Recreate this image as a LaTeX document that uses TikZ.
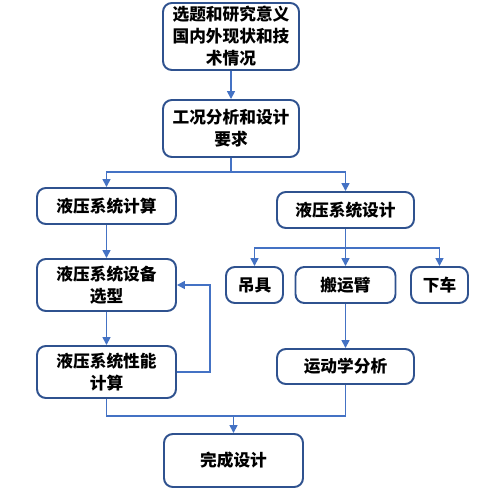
\documentclass[tikz,border=0pt]{standalone}
\usepackage{fontspec}
\setmainfont{Noto Sans CJK SC}
\usetikzlibrary{arrows.meta}
\definecolor{boxblue}{RGB}{47,82,143}
\definecolor{lineblue}{RGB}{68,114,196}
\tikzset{
  stepbox/.style={
    rectangle, rounded corners=5pt, draw=boxblue, line width=1.1pt,
    fill=white, align=center, inner sep=1pt,
    font=\fontsize{9.5}{12.5}\selectfont\bfseries
  },
  flowline/.style={-{Triangle[length=4.5pt,width=4.5pt]}, lineblue, line width=0.9pt},
  plainline/.style={lineblue, line width=0.9pt}
}

\begin{document}
\begin{tikzpicture}[x=0.02cm, y=-0.02cm]
  \useasboundingbox (0,0) rectangle (486,492);

  % left column
  \node[stepbox, minimum width=2.72cm, minimum height=1.34cm] (topic) at (231,36.5)
    {选题和研究意义\\国内外现状和技\\术情况};
  \node[stepbox, minimum width=2.72cm, minimum height=1.14cm] (req) at (231,128.5)
    {工况分析和设计\\要求};
  \node[stepbox, minimum width=2.78cm, minimum height=0.72cm] (calc) at (106.5,206)
    {液压系统计算};
  \node[stepbox, minimum width=2.78cm, minimum height=1.04cm] (sel) at (106.5,285)
    {液压系统设备\\选型};
  \node[stepbox, minimum width=2.78cm, minimum height=1.04cm] (perf) at (106.5,372)
    {液压系统性能\\计算};

  % right column
  \node[stepbox, minimum width=2.74cm, minimum height=0.72cm] (design) at (345.5,210)
    {液压系统设计};
  \node[stepbox, minimum width=1.14cm, minimum height=0.72cm] (hook) at (254.5,285)
    {吊具};
  \node[stepbox, minimum width=2.0cm, minimum height=0.72cm] (arm) at (345.5,285)
    {搬运臂};
  \node[stepbox, minimum width=1.14cm, minimum height=0.72cm] (chassis) at (439.5,285)
    {下车};
  \node[stepbox, minimum width=2.74cm, minimum height=0.70cm] (kin) at (345.5,366.5)
    {运动学分析};

  \node[stepbox, minimum width=2.78cm, minimum height=1.06cm] (done) at (233.5,460.5)
    {完成设计};

  \coordinate (split) at (231,172);
  \coordinate (fork) at (345.5,248);
  \coordinate (join) at (233.5,416);

  % connectors
  \draw[flowline] (topic) -- (req);
  \draw[plainline] (req.south) -- (split);
  \draw[flowline] (split) -| (calc.north);
  \draw[flowline] (split) -| (design.north);
  \draw[flowline] (calc) -- (sel);
  \draw[flowline] (sel) -- (perf);
  \draw[flowline] (perf.east) -- ++(33,0) |- (sel.east);
  \draw[plainline] (design.south) -- (fork);
  \draw[flowline] (fork) -| (hook.north);
  \draw[flowline] (fork) -| (chassis.north);
  \draw[flowline] (fork) -- (arm.north);
  \draw[flowline] (arm) -- (kin);
  \draw[plainline] (perf.south) |- (join);
  \draw[plainline] (kin.south) |- (join);
  \draw[flowline] (join) -- (done.north);
\end{tikzpicture}
\end{document}
